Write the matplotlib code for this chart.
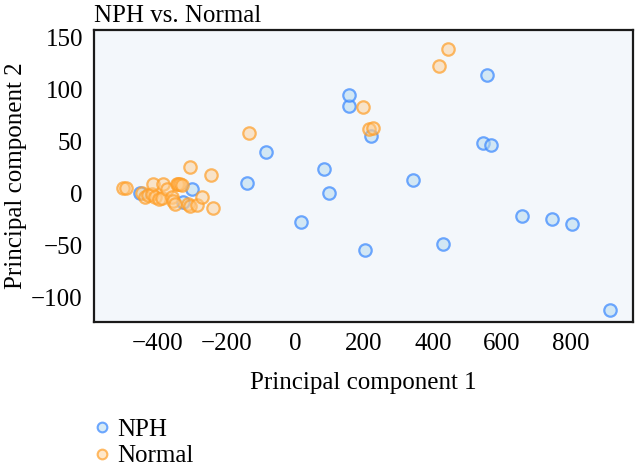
import matplotlib
matplotlib.use("Agg")
import matplotlib.pyplot as plt
from matplotlib.lines import Line2D

plt.rcParams['font.family'] = ['Liberation Serif', 'DejaVu Serif']

title = "NPH vs. Normal"
xlabel = "Principal component 1"
ylabel = "Principal component 2"
series_names = ["NPH", "Normal"]

nph_x = [-451, -298, -326, -140, -85, 85, 97, 18, 155, 157, 219, 204, 343, 428,
         545, 569, 557, 659, 745, 802, 913]
nph_y = [0, 4, -9, 10, 40, 23, 0, -28, 84, 94, 55, -55, 13, -49,
         48, 46, 114, -22, -25, -30, -112]

normal_x = [-498, -490, -444, -435, -425, -415, -411, -406, -395, -386, -382, -372,
            -357, -353, -348, -343, -338, -333, -329, -309, -304, -304, -285, -269,
            -243, -237, -133, 196, 214, 225, 418, 444]
normal_y = [5, 5, 0, -4, -2, -1, 9, -4, -6, -5, 9, 4,
            -4, -8, -10, 9, 9, 9, 8, -10, -12, 25, -11, -4,
            17, -14, 58, 83, 62, 63, 122, 139]

xticks = [-400, -200, 0, 200, 400, 600, 800]
yticks = [-100, -50, 0, 50, 100, 150]

nph_face = (0.72, 0.86, 0.94, 0.55)
nph_edge = (0.25, 0.55, 1.00, 0.75)
nor_face = (1.00, 0.80, 0.55, 0.45)
nor_edge = (1.00, 0.62, 0.15, 0.70)

fig = plt.figure(figsize=(6.35, 4.67), dpi=100)
ax = fig.add_axes([0.148, 0.3105, 0.849, 0.6253])
ax.set_facecolor('#f3f7fb')

ax.scatter(nph_x, nph_y, s=80, facecolor=nph_face, edgecolor=nph_edge, linewidth=1.6, zorder=3)
ax.scatter(normal_x, normal_y, s=80, facecolor=nor_face, edgecolor=nor_edge, linewidth=1.6, zorder=3)

ax.set_xlim(-583, 980)
ax.set_ylim(-124, 157)
ax.set_xticks(xticks)
ax.set_yticks(yticks)
ax.tick_params(length=0, labelsize=18)
ax.tick_params(axis='x', pad=8)
ax.tick_params(axis='y', pad=8)
for sp in ax.spines.values():
    sp.set_linewidth(1.6)
    sp.set_color('#1a1a1a')

ax.set_xlabel(xlabel, fontsize=18, labelpad=12)
ax.set_ylabel(ylabel, fontsize=18)
ax.yaxis.set_label_coords(-0.124, 0.5)
ax.set_title(title, fontsize=18, loc='left', pad=6)

handles = [
    Line2D([], [], linestyle='none', marker='o', markersize=7, markerfacecolor=nph_face,
           markeredgecolor=nph_edge, markeredgewidth=1.5),
    Line2D([], [], linestyle='none', marker='o', markersize=7, markerfacecolor=nor_face,
           markeredgecolor=nor_edge, markeredgewidth=1.5),
]
fig.legend(handles, series_names, loc='upper left', bbox_to_anchor=(0.125, 0.125),
           frameon=False, fontsize=18, handletextpad=0.1, labelspacing=0.15,
           borderaxespad=0, handlelength=1.0)

fig.savefig("out.png", dpi=100)
